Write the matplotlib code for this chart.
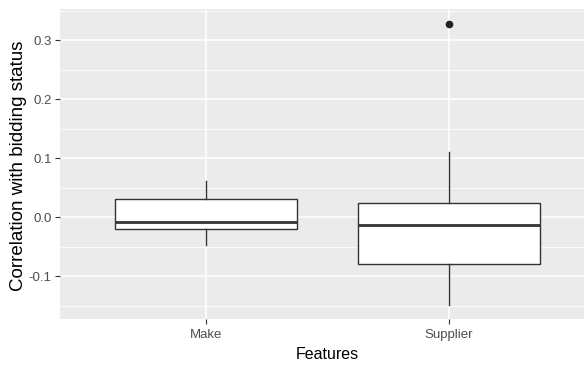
import matplotlib.pyplot as plt
from matplotlib.ticker import MultipleLocator

# box summary per feature (correlation with bidding status)
features = ["Make", "Supplier"]
q1 = [-0.020, -0.079]
median = [-0.008, -0.0125]
q3 = [0.032, 0.024]
whisker_low = [-0.047, -0.148]
whisker_high = [0.062, 0.111]
outliers = [[], [0.328]]

stats = []
for i, name in enumerate(features):
    stats.append(dict(label=name, q1=q1[i], med=median[i], q3=q3[i],
                      whislo=whisker_low[i], whishi=whisker_high[i],
                      fliers=outliers[i]))

fig = plt.figure(figsize=(5.84, 3.66), dpi=100)
ax = fig.add_axes([60 / 584, 47 / 366, 534.6 / 584, 310 / 366])
ax.set_facecolor("#EBEBEB")

ax.bxp(stats, positions=[1, 2], widths=0.75, patch_artist=True,
       boxprops=dict(facecolor="white", edgecolor="#333333", linewidth=1.0),
       medianprops=dict(color="#333333", linewidth=2.0),
       whiskerprops=dict(color="#333333", linewidth=1.0),
       capprops=dict(linewidth=0),
       flierprops=dict(marker="o", markerfacecolor="#222222",
                       markeredgecolor="#222222", markersize=4.5),
       zorder=3)

ax.set_xlim(0.4, 2.6)
ax.set_ylim(-0.172, 0.353)
ax.yaxis.set_minor_locator(MultipleLocator(0.05))
ax.set_yticks([-0.1, 0.0, 0.1, 0.2, 0.3])
ax.set_yticklabels(["-0.1", "0.0", "0.1", "0.2", "0.3"])
ax.set_xticks([1, 2])
ax.set_xticklabels(features)

ax.grid(which="major", color="white", linewidth=1.1)
ax.grid(which="minor", axis="y", color="white", linewidth=0.55)
ax.set_axisbelow(True)
for s in ax.spines.values():
    s.set_visible(False)

ax.tick_params(which="major", length=3.5, width=0.8, color="#333333",
               labelcolor="#4D4D4D", labelsize=9.5)
ax.tick_params(axis="y", pad=2.5)
ax.tick_params(axis="x", pad=4)
ax.tick_params(which="minor", length=0)
for lab in ax.get_xticklabels() + ax.get_yticklabels():
    lab.set_family(["Liberation Sans Narrow", "Liberation Sans"])

ax.set_xlabel("Features", fontsize=11.5, family="Liberation Sans", labelpad=4)
ax.set_ylabel("Correlation with bidding status", fontsize=13.5,
              family="Liberation Sans")
ax.yaxis.label.set_va("center")
ax.yaxis.set_label_coords(-0.0767, 0.4955)

fig.savefig("out.png", dpi=100)
